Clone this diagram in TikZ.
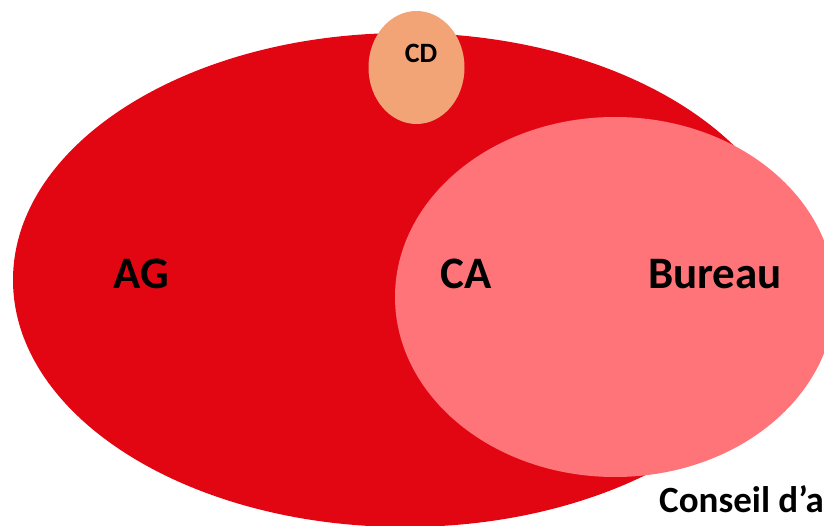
\documentclass[tikz,border=0pt]{standalone}
\usepackage{fontspec}
\setmainfont{Carlito}
\definecolor{bigred}{HTML}{E20613}
\definecolor{pinkca}{HTML}{FF7479}
\definecolor{cdorange}{HTML}{F3A477}
\begin{document}
\begin{tikzpicture}[x=1pt,y=-1pt,
  lbl/.style={inner sep=0pt,anchor=base,font=\bfseries\fontsize{45}{50}\selectfont}]
\useasboundingbox (0,0) rectangle (824,526);
\begin{scope}
\clip (0,0) rectangle (824,526);
\fill[bigred] (405,280) ellipse [x radius=392, y radius=247];
\fill[pinkca] (615,297) ellipse [x radius=220, y radius=180];
\fill[cdorange] (416.5,67.5) ellipse [x radius=48, y radius=56.5];
\node[inner sep=0pt,anchor=base west,font=\bfseries\fontsize{37}{40}\selectfont] (co) at (659,512) {Conseil d’administration};
\end{scope}
\node[lbl] (ag) at (141.5,289) {AG};
\node[lbl] (ca) at (466,289) {CA};
\node[lbl] (bu) at (715,289) {Bureau};
\node[lbl,font=\bfseries\fontsize{28}{32}\selectfont] (cd) at (421,63) {CD};
\end{tikzpicture}
\end{document}
